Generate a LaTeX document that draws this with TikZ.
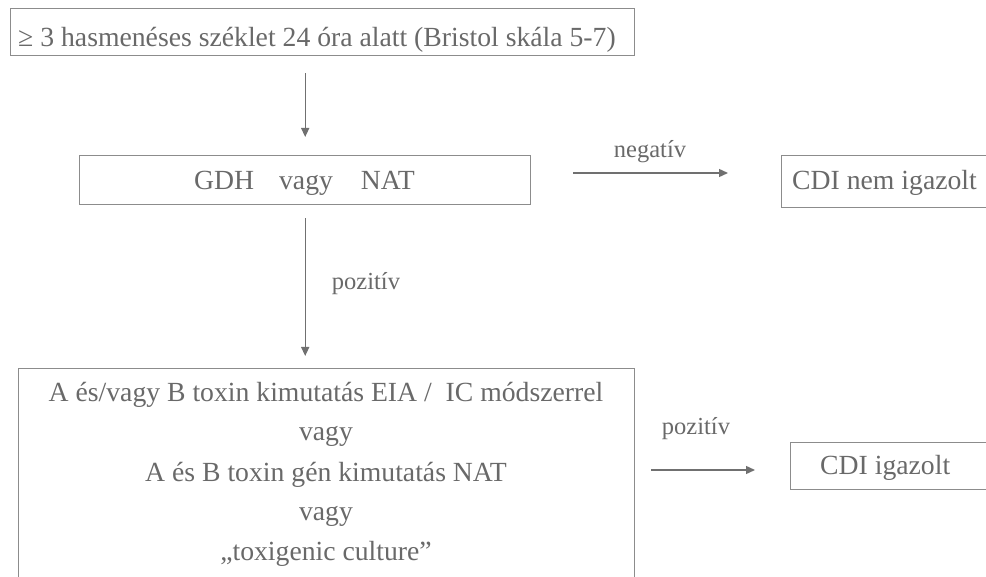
\documentclass[tikz,border=0pt]{standalone}
\usepackage{fontspec}
\setmainfont{Liberation Serif}
\usetikzlibrary{arrows.meta}
\definecolor{txtgray}{RGB}{105,105,105}
\definecolor{boxgray}{RGB}{140,140,140}
\definecolor{arrgray}{RGB}{112,112,112}
\begin{document}
\begin{tikzpicture}[x=1pt,y=-1pt,
  box/.style={draw=boxgray, line width=1.4pt, rectangle, inner sep=0pt, anchor=north west},
  txt/.style={text=txtgray, font=\fontsize{27.7}{33}\selectfont, inner sep=0pt},
  lbl/.style={text=txtgray, font=\fontsize{24.5}{29}\selectfont, inner sep=0pt, anchor=base},
  arr/.style={draw=arrgray, line width=1.4pt, -{Triangle[length=9pt,width=8pt]}}]
\useasboundingbox (0,0) rectangle (986,577);
\clip (0,0) rectangle (986,577);
% boxes
\node[box, minimum width=624pt, minimum height=47pt] (top) at (10,8) {};
\node[box, minimum width=451pt, minimum height=49pt] (gdh) at (79,155) {};
\node[box, minimum width=230pt, minimum height=52pt] (cdin) at (781,155) {};
\node[box, minimum width=616pt, minimum height=240pt] (bot) at (18,368) {};
\node[box, minimum width=220pt, minimum height=47pt] (cdii) at (790,442) {};
% texts
\node[txt, anchor=base west] (toptext) at (18,47) {≥ 3 hasmenéses széklet 24 óra alatt (Bristol skála 5-7)};
\node[txt, anchor=base] (gdhtext) at (304.5,190) {GDH\hspace{25pt}vagy\hspace{28pt}NAT};
\node[txt, anchor=base west] (cdintext) at (792,190) {CDI nem igazolt};
\node[txt, anchor=base west] (cdiitext) at (820,475) {CDI igazolt};
\node[txt, anchor=base] (b1) at (326,402) {A és/vagy B toxin kimutatás EIA / \ IC módszerrel};
\node[txt, anchor=base] (b2) at (326,441) {vagy};
\node[txt, anchor=base] (b3) at (326,481) {A és B toxin gén kimutatás NAT};
\node[txt, anchor=base] (b4) at (326,520) {vagy};
\node[txt, anchor=base] (b5) at (326,560) {„toxigenic culture”};
% labels
\node[lbl] (neg) at (650,158) {negatív};
\node[lbl] (pos1) at (366,290) {pozitív};
\node[lbl] (pos2) at (696,435) {pozitív};
% connectors
\draw[arr, shorten <=17pt, shorten >=18pt] (top.south -| gdh.north) -- (gdh.north);
\draw[arr, shorten <=13pt, shorten >=12pt] (gdh.south) -- (gdh.south |- bot.north);
\coordinate (n1) at (573,173);
\coordinate (n2) at (728,173);
\draw[arr] (n1) -- (n2);
\coordinate (p1) at (651,470);
\coordinate (p2) at (755,470);
\draw[arr] (p1) -- (p2);
\end{tikzpicture}
\end{document}
